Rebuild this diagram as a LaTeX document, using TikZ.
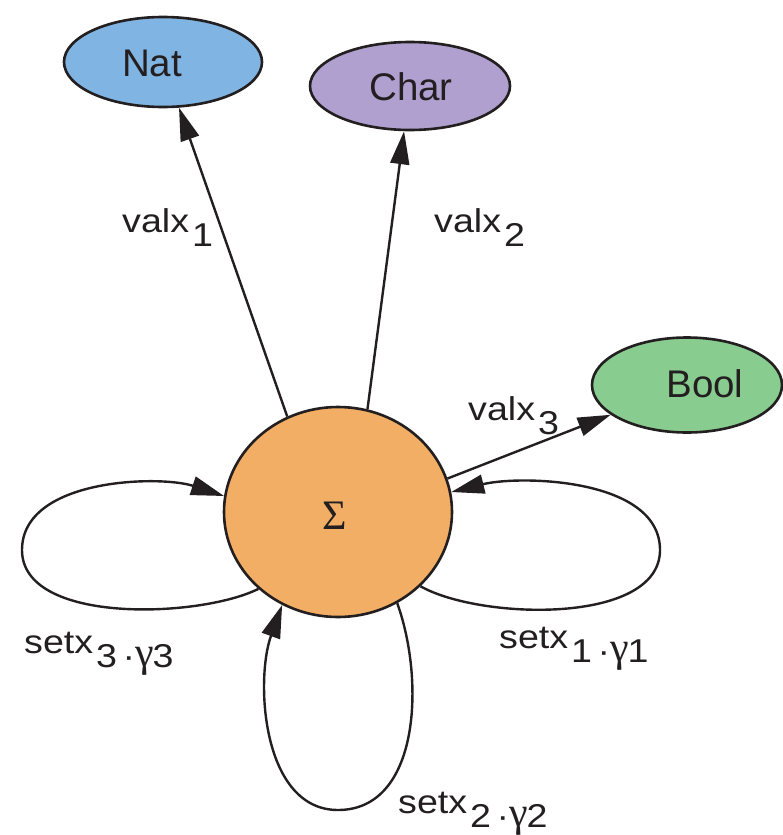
\documentclass[tikz,border=0pt]{standalone}
\usepackage{fontspec}
\setmainfont{Liberation Sans}
\newfontfamily\edgefont[FakeStretch=1.14]{Liberation Sans}
\newfontfamily\greekfont{Liberation Serif}
\usetikzlibrary{shapes.geometric,arrows.meta}

\definecolor{natblue}{HTML}{80B4E2}
\definecolor{charpurple}{HTML}{B0A0D0}
\definecolor{boolgreen}{HTML}{88CC90}
\definecolor{sigorange}{HTML}{F2AE64}
\definecolor{ink}{HTML}{231F20}

% lowered index as the labels print it
\newcommand{\lowidx}[1]{\raisebox{-14pt}{#1}}
\newcommand{\gam}{{\greekfont\fontsize{42}{44}\selectfont γ}}

\tikzset{
  typebox/.style={ellipse, draw=ink, line width=2.6pt, inner sep=0pt},
  typename/.style={inner sep=0pt, text=ink, font=\fontsize{38.5}{40}\selectfont},
  edgelbl/.style={anchor=base west, inner sep=0pt, text=ink, font=\edgefont\fontsize{33}{35}\selectfont},
  edge/.style={draw=ink, line width=2.4pt, -{Triangle[length=33pt,width=19pt]}},
}

\begin{document}
\begin{tikzpicture}[x=1pt,y=-1pt]
\useasboundingbox (0,0) rectangle (782,835);

% state and value sorts
\node[typebox, fill=natblue, minimum width=198pt, minimum height=90pt] (nat) at (163,62) {};
\node[typebox, fill=charpurple, minimum width=200pt, minimum height=88pt] (char) at (410,86) {};
\node[typebox, fill=boolgreen, minimum width=190pt, minimum height=95pt] (bool) at (687,385) {};
\node[typebox, fill=sigorange, minimum width=228pt, minimum height=210pt] (sig) at (338,512) {};

\node[typename] (natlbl) at (152,63) {Nat};
\node[typename] (charlbl) at (411,87) {Char};
\node[typename] (boollbl) at (705,384) {Bool};
\node[inner sep=0pt, text=ink, font=\greekfont\fontsize{42}{44}\selectfont] (siglbl) at (335,516) {Σ};

% observers
\draw[edge] (sig.118) -- (nat);
\draw[edge] (sig.74) -- (char);
\draw[edge] (sig.17) -- (bool);

% updates
\draw[edge] (sig.224) .. controls (200,618) and (22,625) .. (22,550)
  .. controls (22,478) and (160,475) .. (sig.172);
\draw[edge] (sig.-42) .. controls (480,620) and (660,625) .. (660,550)
  .. controls (660,478) and (520,475) .. (sig.10);
\draw[edge] (sig.-57) .. controls (425,680) and (420,810) .. (338,810)
  .. controls (262,810) and (255,680) .. (sig.239);

% labels
\node[edgelbl] (l1) at (122,232) {valx\hspace{3pt}\lowidx{1}};
\node[edgelbl] (l2) at (434,232) {valx\hspace{3pt}\lowidx{2}};
\node[edgelbl] (l3) at (468,420) {valx\hspace{3pt}\lowidx{3}};
\node[edgelbl] (s3) at (24,653) {setx\hspace{3pt}\lowidx{3\,·\raisebox{1pt}{\gam}\kern-1pt3}};
\node[edgelbl] (s1) at (499,648) {setx\hspace{3pt}\lowidx{1\,·\raisebox{1pt}{\gam}\kern-1pt1}};
\node[edgelbl] (s2) at (398,813) {setx\hspace{3pt}\lowidx{2\,·\raisebox{1pt}{\gam}\kern-1pt2}};
\end{tikzpicture}
\end{document}
